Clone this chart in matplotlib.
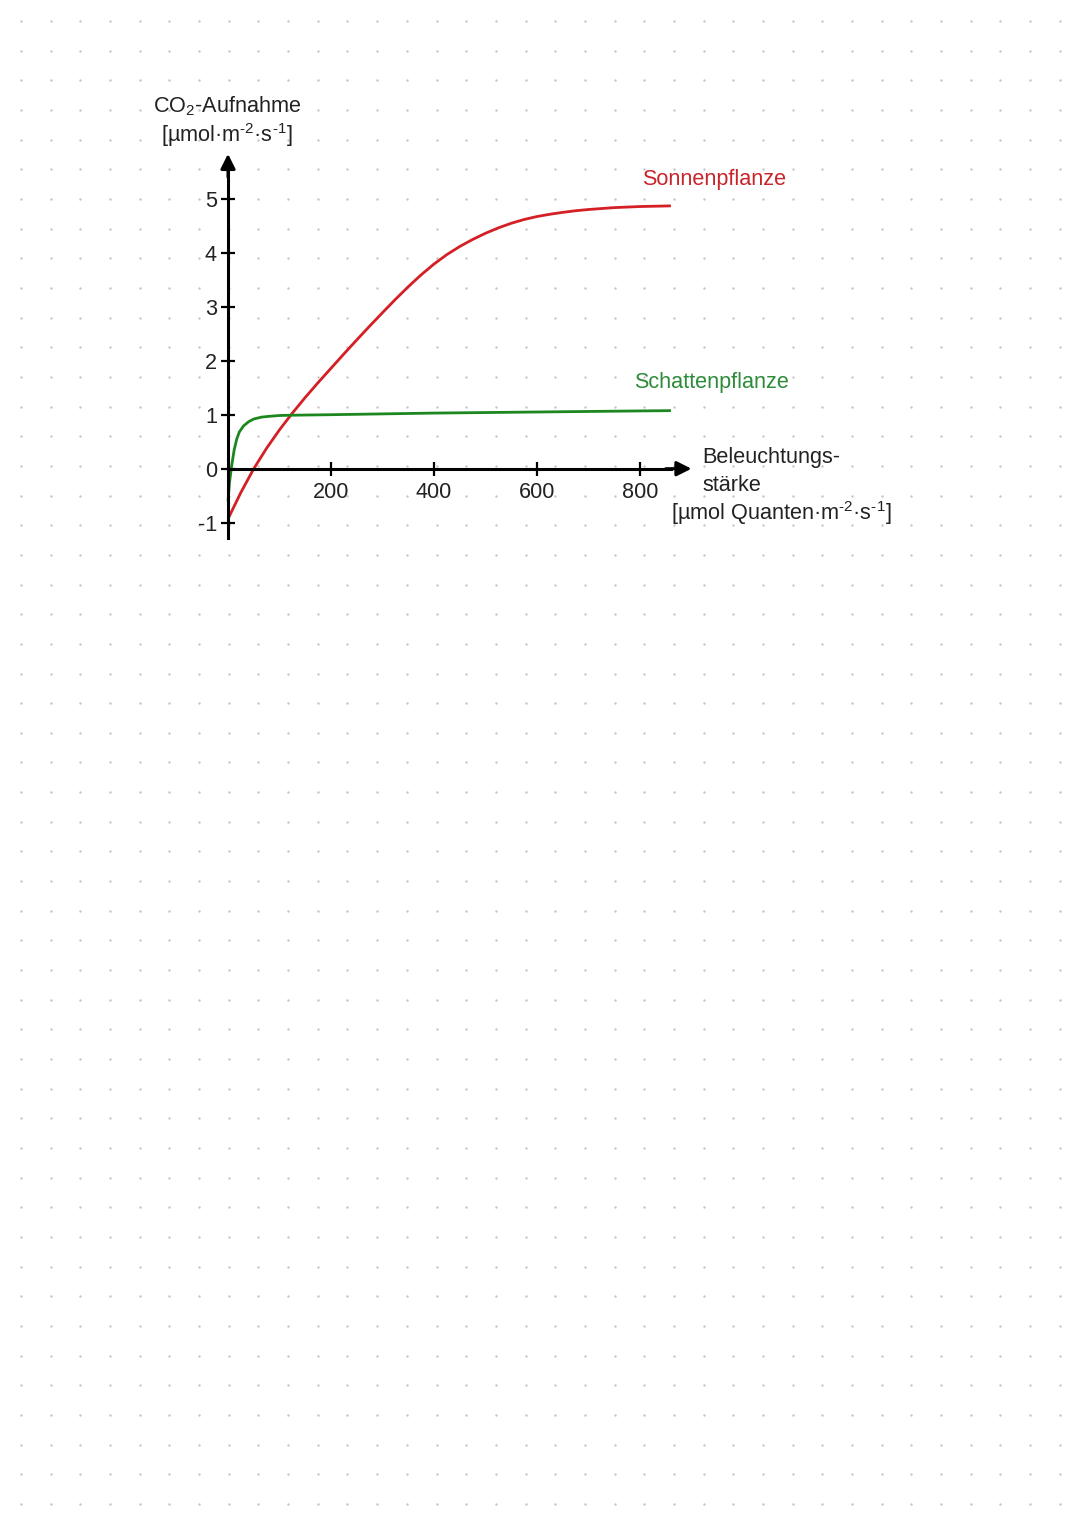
import numpy as np
import matplotlib.pyplot as plt

plt.rcParams['font.family'] = ['Liberation Sans', 'DejaVu Sans']
plt.rcParams['mathtext.fontset'] = 'custom'
plt.rcParams['mathtext.rm'] = 'Liberation Sans'
plt.rcParams['mathtext.it'] = 'Liberation Sans:italic'
plt.rcParams['mathtext.bf'] = 'Liberation Sans:bold'

# Sonnenpflanze (sun plant)
light_sun = [0, 25, 50, 75, 100, 125, 150, 175, 200, 225, 250, 275, 300, 325,
             350, 375, 400, 425, 450, 475, 500, 525, 550, 575, 600, 625, 650,
             675, 700, 750, 800, 860]
co2_sun = [-0.93, -0.44, 0.0, 0.38, 0.72, 1.03, 1.32, 1.595, 1.86, 2.125, 2.385,
           2.64, 2.89, 3.135, 3.37, 3.59, 3.79, 3.965, 4.115, 4.245, 4.36, 4.46,
           4.545, 4.615, 4.67, 4.712, 4.747, 4.777, 4.80, 4.835, 4.855, 4.867]

# Schattenpflanze (shade plant)
light_shade = [0, 3, 7, 12, 17, 22, 30, 40, 50, 65, 80, 100, 120, 200, 300,
               400, 500, 600, 700, 800, 860]
co2_shade = [-0.6, -0.25, 0.05, 0.35, 0.55, 0.68, 0.79, 0.87, 0.92, 0.955, 0.97,
             0.985, 0.99, 1.0, 1.015, 1.03, 1.04, 1.05, 1.06, 1.07, 1.075]

y_ticks = [-1, 0, 1, 2, 3, 4, 5]
x_ticks = [200, 400, 600, 800]

RED = '#d41f24'
GREEN = '#1c861f'

W, H = 1080, 1525
x0, y0 = 228, 468.7      # pixel position of the origin
sx, sy = 103 / 200, 54.0  # pixels per data unit

fig = plt.figure(figsize=(10.8, 15.25), dpi=100)

# dotted paper background
bg = fig.add_axes([0, 0, 1, 1])
bg.set_xlim(0, W)
bg.set_ylim(H, 0)
bg.axis('off')
gx, gy = np.meshgrid(np.arange(21, W, 29.68), np.arange(21, H, 29.66))
bg.scatter(gx.ravel(), gy.ravel(), s=3, color='#c6c6c6', lw=0)

ax = fig.add_axes([0, 0, 1, 1], facecolor='none')
ax.set_xlim(-x0 / sx, (W - x0) / sx)
ax.set_ylim((y0 - H) / sy, y0 / sy)

ax.spines[['top', 'right']].set_visible(False)
ax.spines['left'].set_position(('data', 0))
ax.spines['bottom'].set_position(('data', 0))
ax.spines['left'].set_bounds(-1.28, 5.5)
ax.spines['bottom'].set_bounds(0, 860)
for s in ['left', 'bottom']:
    ax.spines[s].set_linewidth(2.2)

ax.annotate('', xy=(0, 5.83), xytext=(0, 5.4),
            arrowprops=dict(arrowstyle='-|>', color='black', lw=2.2,
                            mutation_scale=22, shrinkA=0, shrinkB=0))
ax.annotate('', xy=(900, 0), xytext=(850, 0),
            arrowprops=dict(arrowstyle='-|>', color='black', lw=2.2,
                            mutation_scale=22, shrinkA=0, shrinkB=0))

ax.set_yticks(y_ticks)
ax.set_yticklabels([str(v) for v in y_ticks])
ax.set_xticks(x_ticks)
ax.set_xticklabels([str(v) for v in x_ticks])
ax.tick_params(direction='inout', length=10, width=1.6, labelsize=15.6,
               colors='black')
ax.tick_params(axis='y', pad=3.0)
ax.tick_params(axis='x', pad=4.6)
for lab in ax.get_yticklabels() + ax.get_xticklabels():
    lab.set_color('#222222')

ax.plot(light_sun, co2_sun, color=RED, lw=2.0, solid_capstyle='butt',
        solid_joinstyle='round')
ax.plot(light_shade, co2_shade, color=GREEN, lw=2.0, solid_capstyle='butt',
        solid_joinstyle='round')

fs = 15.6
unit = r'm$^{\text{-2}}$·s$^{\text{-1}}$'
bg.text(227, 112, 'CO$_2$-Aufnahme', ha='center', va='baseline',
        fontsize=fs, color='#222222')
bg.text(227, 142, '[µmol·' + unit + ']', ha='center', va='baseline',
        fontsize=fs, color='#222222')
bg.text(642, 185, 'Sonnenpflanze', ha='left', va='baseline',
        fontsize=fs, color='#c8242b')
bg.text(634, 388, 'Schattenpflanze', ha='left', va='baseline',
        fontsize=fs, color='#2e8b3a')
bg.text(702, 463, 'Beleuchtungs-', ha='left', va='baseline',
        fontsize=fs, color='#222222')
bg.text(702, 491, 'stärke', ha='left', va='baseline',
        fontsize=fs, color='#222222')
bg.text(671, 520, '[µmol Quanten·' + unit + ']', ha='left', va='baseline',
        fontsize=fs, color='#222222')

fig.savefig('out.png', dpi=100)
